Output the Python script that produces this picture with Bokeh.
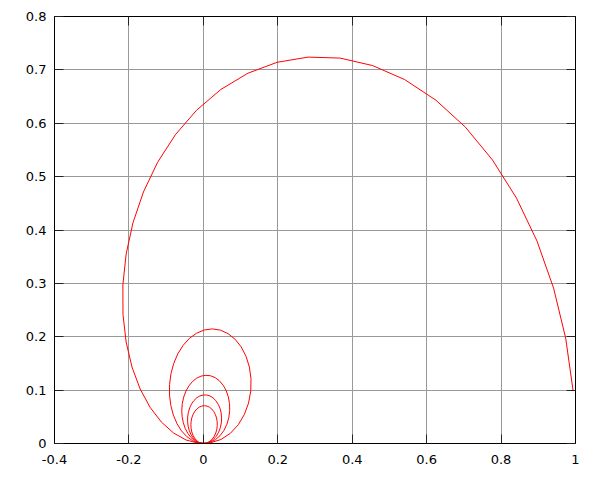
from bokeh.plotting import figure
from bokeh.models import Range1d, FixedTicker, LinearAxis
from bokeh.embed import file_html
from bokeh.resources import INLINE

re_vals = [
    0.9934, 0.9736, 0.9411, 0.8967, 0.8415, 0.7767, 0.7039, 0.6247, 0.5410, 0.4546,
    0.3675, 0.2814, 0.1983, 0.1196, 0.0470, -0.0182, -0.0752, -0.1229, -0.1610, -0.1892,
    -0.2075, -0.2163, -0.2160, -0.2075, -0.1918, -0.1699, -0.1431, -0.1127, -0.0801, -0.0466,
    -0.0134, 0.0182, 0.0472, 0.0727, 0.0939, 0.1102, 0.1215, 0.1274, 0.1280, 0.1237,
    0.1147, 0.1017, 0.0854, 0.0665, 0.0458, 0.0242, 0.0026, -0.0182, -0.0374, -0.0544,
    -0.0686, -0.0796, -0.0871, -0.0908, -0.0909, -0.0874, -0.0806, -0.0709, -0.0588, -0.0447,
    -0.0294, -0.0134, 0.0027, 0.0181, 0.0323, 0.0449, 0.0553, 0.0632, 0.0684, 0.0708,
    0.0703, 0.0671, 0.0613, 0.0533, 0.0434, 0.0320, 0.0197, 0.0069, -0.0058, -0.0180,
    -0.0292, -0.0389, -0.0469, -0.0528, -0.0566, -0.0580, -0.0571, -0.0539, -0.0487, -0.0417,
    -0.0332, -0.0236, -0.0133, -0.0026, 0.0079, 0.0179, 0.0270, 0.0348, 0.0411, 0.0456,
    0.0483, 0.0490, 0.0478, 0.0447, 0.0398, 0.0335, 0.0260, 0.0177, 0.0087, -0.0004,
    -0.0093, -0.0177, -0.0253, -0.0317, -0.0368, -0.0403, -0.0422, -0.0423, -0.0408, -0.0377,
    -0.0332, -0.0274, -0.0206, -0.0132, -0.0053, 0.0027, 0.0104, 0.0176, 0.0240, 0.0293,
    0.0334, 0.0361, 0.0374, 0.0371, 0.0354, 0.0323, 0.0280, 0.0226, 0.0164, 0.0097,
    0.0026, -0.0044, -0.0112, -0.0174, -0.0229, -0.0274, -0.0307, -0.0328, -0.0335, -0.0329,
    -0.0311, -0.0280, -0.0238, -0.0188, -0.0130, -0.0069, -0.0005,
]
im_vals = [
    0.0997, 0.1974, 0.2911, 0.3791, 0.4597, 0.5314, 0.5929, 0.6433, 0.6818, 0.7081,
    0.7221, 0.7239, 0.7142, 0.6937, 0.6633, 0.6245, 0.5785, 0.5269, 0.4713, 0.4134,
    0.3548, 0.2971, 0.2418, 0.1901, 0.1433, 0.1022, 0.0677, 0.0401, 0.0197, 0.0066,
    0.0006, 0.0011, 0.0075, 0.0192, 0.0352, 0.0544, 0.0759, 0.0985, 0.1213, 0.1432,
    0.1633, 0.1809, 0.1952, 0.2058, 0.2124, 0.2147, 0.2127, 0.2067, 0.1970, 0.1839,
    0.1681, 0.1501, 0.1307, 0.1106, 0.0905, 0.0712, 0.0532, 0.0372, 0.0237, 0.0130,
    0.0054, 0.0011, 0.0001, 0.0021, 0.0071, 0.0147, 0.0245, 0.0359, 0.0485, 0.0617,
    0.0748, 0.0875, 0.0991, 0.1091, 0.1173, 0.1233, 0.1268, 0.1278, 0.1263, 0.1224,
    0.1161, 0.1079, 0.0981, 0.0870, 0.0750, 0.0627, 0.0505, 0.0389, 0.0282, 0.0189,
    0.0112, 0.0054, 0.0017, 0.0001, 0.0006, 0.0032, 0.0076, 0.0137, 0.0211, 0.0296,
    0.0387, 0.0480, 0.0572, 0.0659, 0.0737, 0.0803, 0.0855, 0.0891, 0.0909, 0.0909,
    0.0891, 0.0856, 0.0805, 0.0741, 0.0667, 0.0584, 0.0496, 0.0408, 0.0321, 0.0240,
    0.0167, 0.0105, 0.0056, 0.0022, 0.0004, 0.0001, 0.0014, 0.0042, 0.0083, 0.0136,
    0.0198, 0.0266, 0.0337, 0.0409, 0.0479, 0.0543, 0.0599, 0.0645, 0.0680, 0.0701,
    0.0708, 0.0701, 0.0681, 0.0648, 0.0603, 0.0548, 0.0487, 0.0420, 0.0351, 0.0282,
    0.0216, 0.0156, 0.0103, 0.0060, 0.0028, 0.0007, 0.0000,
]

x_ticks = [-0.4, -0.2, 0, 0.2, 0.4, 0.6, 0.8, 1]
x_labels = ["-0.4", "-0.2", "0", "0.2", "0.4", "0.6", "0.8", "1"]
y_ticks = [0, 0.1, 0.2, 0.3, 0.4, 0.5, 0.6, 0.7, 0.8]
y_labels = ["0", "0.1", "0.2", "0.3", "0.4", "0.5", "0.6", "0.7", "0.8"]

FONT = "DejaVu Sans"

p = figure(width=598, height=478,
           x_range=Range1d(-0.4, 1), y_range=Range1d(0, 0.8),
           output_backend="svg", toolbar_location=None,
           min_border_left=54, min_border_top=16,
           min_border_right=23, min_border_bottom=35)

p.background_fill_color = "white"
p.border_fill_color = "white"
p.outline_line_color = "black"
p.outline_line_width = 1

p.xgrid.ticker = FixedTicker(ticks=x_ticks)
p.ygrid.ticker = FixedTicker(ticks=y_ticks)
for g in (p.xgrid, p.ygrid):
    g.grid_line_color = "#999999"
    g.grid_line_width = 1

def style_axis(ax, ticks, labels, standoff, show_labels=True):
    ax.ticker = FixedTicker(ticks=ticks)
    ax.major_tick_in = 9
    ax.major_tick_out = 0
    ax.minor_tick_in = 0
    ax.minor_tick_out = 0
    ax.major_tick_line_color = "#222222"
    ax.major_tick_line_width = 1
    ax.axis_line_color = "black"
    ax.major_label_text_font = FONT
    ax.major_label_text_font_size = "13px"
    ax.major_label_text_color = "black"
    ax.major_label_standoff = standoff
    if show_labels:
        ax.major_label_overrides = {t: l for t, l in zip(ticks, labels)}
    else:
        ax.major_label_overrides = {t: "" for t in ticks}
        ax.major_label_text_font_size = "0px"
        ax.major_label_standoff = 0

style_axis(p.xaxis[0], x_ticks, x_labels, 11)
style_axis(p.yaxis[0], y_ticks, y_labels, 8)

top_axis = LinearAxis()
style_axis(top_axis, x_ticks, x_labels, 0, show_labels=False)
p.add_layout(top_axis, "above")
right_axis = LinearAxis()
style_axis(right_axis, y_ticks, y_labels, 0, show_labels=False)
p.add_layout(right_axis, "right")

p.line(re_vals, im_vals, line_color="#ff0000", line_width=1)

open("out.html", "w").write(file_html(p, INLINE))
